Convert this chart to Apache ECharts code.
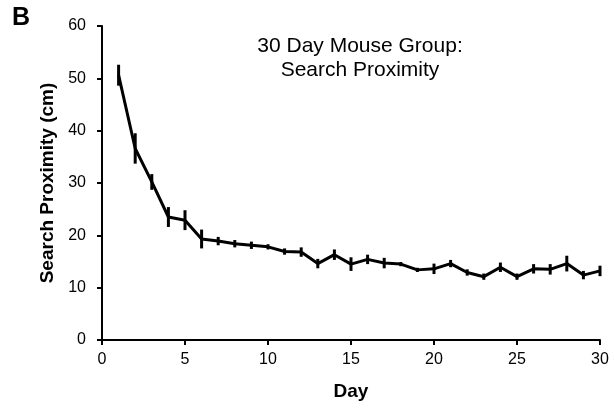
<!DOCTYPE html>
<html>
<head>
<meta charset="utf-8">
<script src="https://cdn.jsdelivr.net/npm/echarts@6/dist/echarts.min.js"></script>
<style>
  html, body { margin: 0; padding: 0; background: #fff; }
  #pic { width: 614px; height: 409px; }
</style>
</head>
<body>
<div id="pic"></div>
<script>
var days = [1,2,3,4,5,6,7,8,9,10,11,12,13,14,15,16,17,18,19,20,21,22,23,24,25,26,27,28,29,30];
var proximity = [50.6,36.6,30.2,23.5,22.9,19.3,18.9,18.4,18.1,17.8,16.9,16.8,14.6,16.3,14.5,15.4,14.7,14.5,13.4,13.6,14.6,12.9,12.1,13.9,12.1,13.6,13.5,14.6,12.4,13.2];
var sem = [2.0,2.9,1.5,1.9,1.9,1.8,0.8,0.7,0.7,0.5,0.6,0.9,0.9,1.0,1.3,0.9,1.0,0.4,0.4,1.0,0.7,0.6,0.6,0.9,0.6,0.9,1.0,1.5,0.8,1.0];
var xTicks = [0, 5, 10, 15, 20, 25, 30];
var yTicks = [0, 10, 20, 30, 40, 50, 60];

var chart = echarts.init(document.getElementById('pic'));
var font = 'Liberation Sans, Arial, sans-serif';

var lineData = days.map(function (d, i) { return [d, proximity[i]]; });
var errData = days.map(function (d, i) { return [d, proximity[i] - sem[i], proximity[i] + sem[i]]; });

var option = {
    animation: false,
    backgroundColor: '#fff',
    grid: { left: 102, right: 14, top: 26, bottom: 69 },
    graphic: [
        { type: 'text', left: 12, top: 6, style: { text: 'B', font: 'bold 25px ' + font, fill: '#000' } },
        { type: 'text', x: 360, y: 34, style: { text: '30 Day Mouse Group:\nSearch Proximity', font: '21px ' + font, fill: '#000', align: 'center', lineHeight: 24 } }
    ],
    xAxis: {
        type: 'value',
        min: xTicks[0], max: xTicks[xTicks.length - 1], interval: 5,
        name: 'Day', nameLocation: 'middle', nameGap: 42,
        nameTextStyle: { fontFamily: font, fontSize: 19, fontWeight: 'bold', color: '#000' },
        axisLine: { show: true, lineStyle: { color: '#000', width: 2 } },
        axisTick: { show: true, inside: false, length: 5, lineStyle: { color: '#000', width: 2 } },
        axisLabel: { fontFamily: font, fontSize: 16, color: '#000', margin: 12 },
        splitLine: { show: false }
    },
    yAxis: {
        type: 'value',
        min: yTicks[0], max: yTicks[yTicks.length - 1], interval: 10,
        name: 'Search Proximity (cm)', nameLocation: 'middle', nameGap: 38, nameRotate: 90,
        nameTextStyle: { fontFamily: font, fontSize: 19, fontWeight: 'bold', color: '#000' },
        axisLine: { show: true, lineStyle: { color: '#000', width: 2 } },
        axisTick: { show: true, inside: false, length: 5, lineStyle: { color: '#000', width: 2 } },
        axisLabel: { fontFamily: font, fontSize: 16, color: '#000', margin: 16 },
        splitLine: { show: false }
    },
    series: [
        {
            type: 'line',
            data: lineData,
            symbol: 'none',
            lineStyle: { color: '#000', width: 3 },
            z: 3
        },
        {
            type: 'custom',
            data: errData,
            renderItem: function (params, api) {
                var lo = api.coord([api.value(0), api.value(1)]);
                var hi = api.coord([api.value(0), api.value(2)]);
                return {
                    type: 'line',
                    shape: { x1: lo[0], y1: lo[1], x2: hi[0], y2: hi[1] },
                    style: { stroke: '#000', lineWidth: 3 }
                };
            },
            z: 4
        }
    ]
};
chart.setOption(option);
</script>
</body>
</html>
